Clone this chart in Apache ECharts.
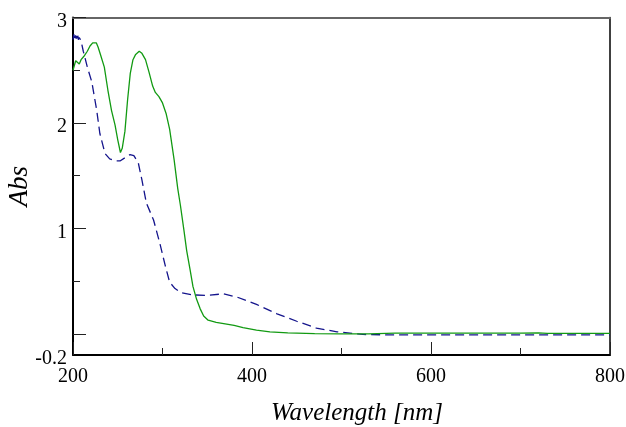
<!DOCTYPE html>
<html><head><meta charset="utf-8">
<script src="https://cdn.jsdelivr.net/npm/echarts@6/dist/echarts.min.js"></script>
<style>html,body{margin:0;padding:0;background:#fff}#c{width:626px;height:427px}</style>
</head><body><div id="c"></div>
<script>
// Green (solid) spectrum
const greenWl = [200,203,205,207,209,212,216,219,222,224,226,228,231,235,239,243,247,250,253,255,258,261,264,267,270,274,277,281,285,289,292,296,300,304,308,313,317,320,324,327,331,334,338,342,346,351,360,370,380,390,405,420,440,470,500,530,560,600,650,700,720,730,760,800];
const greenAbs = [2.50,2.59,2.58,2.56,2.60,2.63,2.68,2.73,2.76,2.75,2.76,2.72,2.64,2.53,2.31,2.12,1.98,1.84,1.72,1.76,1.92,2.22,2.47,2.60,2.65,2.68,2.66,2.60,2.48,2.35,2.29,2.25,2.19,2.09,1.94,1.65,1.38,1.22,0.98,0.79,0.60,0.45,0.33,0.24,0.17,0.13,0.11,0.095,0.08,0.06,0.035,0.02,0.01,0.003,0.0,0.0,0.008,0.008,0.008,0.008,0.01,0.005,0.005,0.005];
// Blue (dashed) spectrum
const blueWl = [200,201,202,203,204,205,206,207,209,211.5,216,221,226.5,230,235.8,241,247,252.5,258,263.7,268,273,277,282,290,297,303,308,314,321,334,349,368,383,405,428,450,472,495,524,554,600,700,800];
const blueAbs = [2.79,2.84,2.78,2.83,2.80,2.85,2.79,2.81,2.78,2.68,2.53,2.39,2.12,1.90,1.71,1.66,1.64,1.64,1.67,1.70,1.69,1.62,1.46,1.24,1.08,0.86,0.65,0.49,0.43,0.39,0.37,0.365,0.38,0.35,0.28,0.19,0.12,0.055,0.02,-0.005,-0.01,-0.01,-0.01,-0.01];
// Axis ticks / labels
const xMin = 200, xMax = 800, xStep = 200;
const yMin = -0.2, yMax = 3;
const yMajorTicks = [0,1,2,3];
const yMinorTicks = [0.5,1.5,2.5];
const yLabels = [-0.2,1,2,3];

const font = 'Liberation Serif';
const chart = echarts.init(document.getElementById('c'));
chart.setOption({
  animation: false,
  backgroundColor: '#fff',
  grid: {left: 73, right: 16, top: 17.5, bottom: 72, containLabel: false, outerBoundsMode: 'none'},
  xAxis: [{
    type: 'value', min: xMin, max: xMax, interval: xStep, position: 'bottom',
    name: 'Wavelength [nm]', nameLocation: 'middle', nameGap: 46, nameMoveOverlap: false,
    nameTextStyle: {fontFamily: font, fontStyle: 'italic', fontSize: 25, color: '#000', padding: [0,0,0,31]},
    axisLine: {show: true, onZero: false, lineStyle: {color: '#000', width: 2}},
    axisTick: {show: true, inside: true, length: 13, lineStyle: {color: '#222', width: 1}},
    minorTick: {show: true, splitNumber: 2, length: 7, lineStyle: {color: '#222', width: 1}},
    axisLabel: {fontFamily: font, fontSize: 20, color: '#000', margin: 12},
    splitLine: {show: false}, minorSplitLine: {show: false}
  }, {
    type: 'value', min: xMin, max: xMax, position: 'top',
    axisLine: {show: true, onZero: false, lineStyle: {color: '#666', width: 2}},
    axisTick: {show: false}, axisLabel: {show: false}, splitLine: {show: false}
  }],
  yAxis: [{
    type: 'value', min: yMin, max: yMax, position: 'left',
    name: 'Abs', nameLocation: 'middle', nameGap: 40, nameMoveOverlap: false,
    nameTextStyle: {fontFamily: font, fontStyle: 'italic', fontSize: 27, color: '#000'},
    axisLine: {show: true, onZero: false, lineStyle: {color: '#000', width: 2}},
    axisTick: {show: true, inside: true, length: 13, customValues: yMajorTicks, lineStyle: {color: '#222', width: 1}},
    axisLabel: {fontFamily: font, fontSize: 20, color: '#000', margin: 6, customValues: yLabels,
      formatter: v => '{a|' + String(Math.round(v*10)/10) + '}',
      rich: {a: {fontFamily: font, fontSize: 20, color: '#000', padding: [8,0,0,0]}}},
    splitLine: {show: false}
  }, {
    type: 'value', min: yMin, max: yMax, position: 'left',
    axisLine: {show: false, onZero: false},
    axisTick: {show: true, inside: true, length: 7, customValues: yMinorTicks, lineStyle: {color: '#222', width: 1}},
    axisLabel: {show: false}, splitLine: {show: false}
  }, {
    type: 'value', min: yMin, max: yMax, position: 'right',
    axisLine: {show: true, onZero: false, lineStyle: {color: '#000', width: 1.5}},
    axisTick: {show: false}, axisLabel: {show: false}, splitLine: {show: false}
  }],
  series: [{
    type: 'line', xAxisIndex: 0, yAxisIndex: 0, showSymbol: false, smooth: false,
    data: blueWl.map((w,i) => [w, blueAbs[i]]),
    lineStyle: {color: '#14148c', width: 1.3, type: [9,5]}
  }, {
    type: 'line', xAxisIndex: 0, yAxisIndex: 0, showSymbol: false, smooth: false,
    data: greenWl.map((w,i) => [w, greenAbs[i]]),
    lineStyle: {color: '#129a12', width: 1.3}
  }]
});
</script></body></html>
